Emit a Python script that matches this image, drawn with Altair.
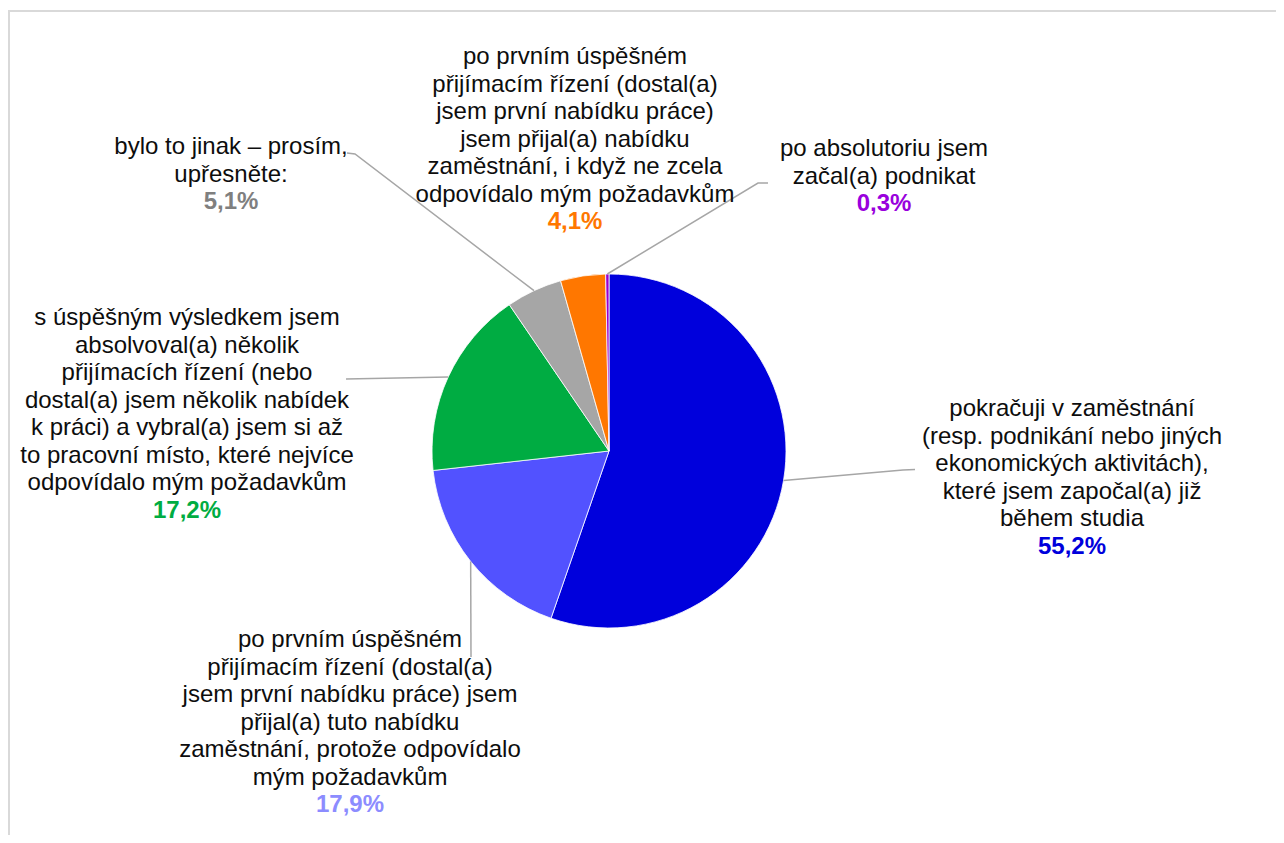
import math
import altair as alt
import pandas as pd

# ---------------- data ----------------
label_lines = [
    ["pokračuji v zaměstnání", "(resp. podnikání nebo jiných", "ekonomických aktivitách),",
     "které jsem započal(a) již", "během studia"],
    ["po prvním úspěšném", "přijímacím řízení (dostal(a)", "jsem první nabídku práce) jsem",
     "přijal(a) tuto nabídku", "zaměstnání, protože odpovídalo", "mým požadavkům"],
    ["s úspěšným výsledkem jsem", "absolvoval(a) několik", "přijímacích řízení (nebo",
     "dostal(a) jsem několik nabídek", "k práci) a vybral(a) jsem si až",
     "to pracovní místo, které nejvíce", "odpovídalo mým požadavkům"],
    ["bylo to jinak – prosím,", "upřesněte:"],
    ["po prvním úspěšném", "přijímacím řízení (dostal(a)", "jsem první nabídku práce)",
     "jsem přijal(a) nabídku", "zaměstnání, i když ne zcela", "odpovídalo mým požadavkům"],
    ["po absolutoriu jsem", "začal(a) podnikat"],
]
values = [55.2, 17.9, 17.2, 5.1, 4.1, 0.3]
categories = [" ".join(l) for l in label_lines]
pct_labels = [f"{v:.1f}".replace(".", ",") + "%" for v in values]

# ---------------- styles / layout ----------------
slice_colors = ["#0000DC", "#5252FF", "#00AC42", "#A6A6A6", "#FF7700", "#9900CC"]
pct_colors = ["#0000DC", "#8C8CFF", "#00AC42", "#7F7F7F", "#FF7700", "#9900DD"]
W, H = 1268, 827
CX, CY, R = 601, 443, 177
FS, LH = 24, 27.5
FONT = "Liberation Sans"

# label anchor: (center x, first baseline y) in plot pixels
label_anchor = [(1064, 408), (342, 639.3), (179, 317), (223, 146), (567, 56), (876, 148)]
# leader waypoints after the slice edge point
leader_pts = [
    [(895, 462), (907, 461.5)],
    [(463, 649)],
    [(338, 371)],
    [(347, 146), (339, 145)],
    [],
    [(750, 175), (760, 175)],
]

total = sum(values)
cum = 0.0
mids = []
for v in values:
    mids.append((cum + v / 2) / total * 2 * math.pi)
    cum += v

pie_df = pd.DataFrame({"cat": categories, "value": values, "idx": list(range(len(values)))})

lab_rows, pct_rows, line_rows = [], [], []
for i, cat in enumerate(categories):
    ax, by = label_anchor[i]
    lab_rows.append({"cat": cat, "text": "\n".join(label_lines[i]), "px": ax,
                     "py": by - round(0.79 * FS)})
    pct_rows.append({"cat": cat, "text": pct_labels[i], "px": ax,
                     "py": by + len(label_lines[i]) * LH})
    if leader_pts[i]:
        a = mids[i]
        pts = [(CX + R * math.sin(a), CY - R * math.cos(a))] + leader_pts[i]
        for k, (x, y) in enumerate(pts):
            line_rows.append({"lid": i, "ord": k, "px": x, "py": y})

lab_df = pd.DataFrame(lab_rows)
pct_df = pd.DataFrame(pct_rows)
line_df = pd.DataFrame(line_rows)

xs = alt.Scale(domain=[0, W], nice=False, zero=False)
ys = alt.Scale(domain=[0, H], nice=False, zero=False, reverse=True)

one = alt.Data(values=[{"a": 0}])
border_top = alt.Chart(one).mark_rule(color="#D9D9D9", strokeWidth=2).encode(
    x=alt.value(0), x2=alt.value(W), y=alt.value(3))
border_left = alt.Chart(one).mark_rule(color="#D9D9D9", strokeWidth=2).encode(
    x=alt.value(1), y=alt.value(2), y2=alt.value(H))

pie = alt.Chart(pie_df).mark_arc(outerRadius=R, stroke="white", strokeWidth=0.8).encode(
    theta=alt.Theta("value:Q", stack=True),
    order=alt.Order("idx:Q", sort="ascending"),
    color=alt.Color("cat:N", scale=alt.Scale(domain=categories, range=slice_colors), legend=None),
    x=alt.value(CX), y=alt.value(CY),
)

leaders = alt.Chart(line_df).mark_line(color="#A6A6A6", strokeWidth=1.5).encode(
    x=alt.X("px:Q", scale=xs, axis=None),
    y=alt.Y("py:Q", scale=ys, axis=None),
    detail="lid:N",
    order="ord:Q",
)

labels = alt.Chart(lab_df).mark_text(
    font=FONT, fontSize=FS, lineHeight=LH, lineBreak="\n", align="center",
    baseline="top", color="#0D0D0D").encode(
    x=alt.X("px:Q", scale=xs, axis=None),
    y=alt.Y("py:Q", scale=ys, axis=None),
    text="text:N",
)

pcts = alt.Chart(pct_df).mark_text(
    font=FONT, fontSize=FS, fontWeight="bold", align="center", baseline="alphabetic").encode(
    x=alt.X("px:Q", scale=xs, axis=None),
    y=alt.Y("py:Q", scale=ys, axis=None),
    text="text:N",
    color=alt.Color("cat:N", scale=alt.Scale(domain=categories, range=pct_colors), legend=None),
)

chart = alt.layer(border_top, border_left, pie, leaders, labels, pcts).resolve_scale(
    color="independent"
).properties(
    width=W, height=H, padding=0, autosize=alt.AutoSizeParams(type="none"),
    background="white",
).configure_view(stroke=None)

chart.save("out.html", embed_options={"renderer": "svg", "actions": False})
